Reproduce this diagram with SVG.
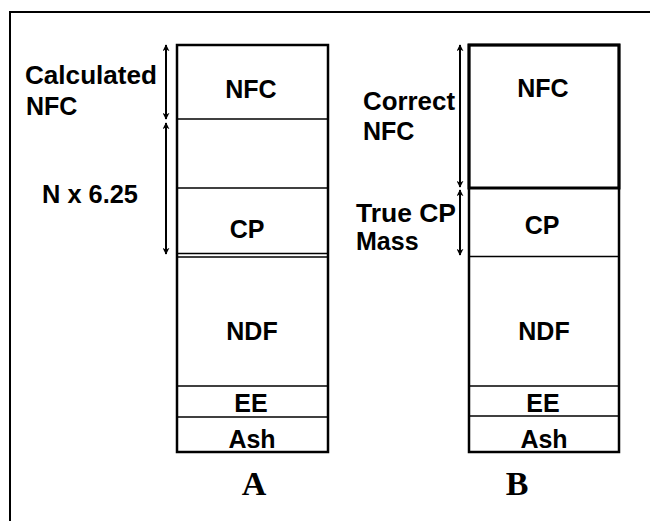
<svg xmlns="http://www.w3.org/2000/svg" width="650" height="521" viewBox="0 0 650 521">
<style>
.t{font-family:"Liberation Sans",Arial,sans-serif;font-weight:bold;font-size:25px;fill:#000}
.c{text-anchor:middle}
.L{font-family:"Liberation Serif","Times New Roman",serif;font-weight:bold;font-size:34px;fill:#000;text-anchor:middle}
.box{fill:#fff;stroke:#000;stroke-width:2.5}
.div{stroke:#000;stroke-width:1.5;fill:none}
.arr{stroke:#000;stroke-width:2;fill:none;marker-start:url(#h);marker-end:url(#h)}
</style>
<defs>
<marker id="h" viewBox="0 0 10 10" refX="9" refY="5" markerUnits="userSpaceOnUse" markerWidth="7" markerHeight="7" orient="auto-start-reverse">
<path d="M0,0 L10,5 L0,10 L3,5 z" fill="#000"/>
</marker>
</defs>
<rect width="650" height="521" fill="#fff"/>
<path d="M10,530 V12 H660" fill="none" stroke="#000" stroke-width="2"/>

<g id="barA">
<rect class="box" x="177" y="45" width="151" height="407"/>
<line class="div" x1="177" y1="119" x2="328" y2="119"/>
<line class="div" x1="177" y1="188" x2="328" y2="188"/>
<line class="div" x1="177" y1="253.5" x2="328" y2="253.5"/>
<line class="div" x1="177" y1="257" x2="328" y2="257"/>
<line class="div" x1="177" y1="386" x2="328" y2="386"/>
<line class="div" x1="177" y1="417" x2="328" y2="417"/>
</g>
<g id="A-NFC"><text class="t c" x="251" y="98">NFC</text></g>
<g id="A-CP"><text class="t c" x="247" y="238">CP</text></g>
<g id="A-NDF"><text class="t c" x="252" y="340">NDF</text></g>
<g id="A-EE"><text class="t c" x="251" y="412">EE</text></g>
<g id="A-Ash"><text class="t c" x="252" y="448">Ash</text></g>
<g id="labelA"><text class="L" x="254" y="495">A</text></g>

<g id="barB">
<rect class="box" x="469" y="45" width="150" height="407" stroke-width="2"/>
<rect x="469" y="45" width="150" height="143" fill="none" stroke="#000" stroke-width="3"/>
<line class="div" x1="469" y1="256.5" x2="619" y2="256.5"/>
<line class="div" x1="469" y1="386" x2="619" y2="386"/>
<line class="div" x1="469" y1="416" x2="619" y2="416"/>
</g>
<g id="B-NFC"><text class="t c" x="543" y="97">NFC</text></g>
<g id="B-CP"><text class="t c" x="542" y="234">CP</text></g>
<g id="B-NDF"><text class="t c" x="544" y="340">NDF</text></g>
<g id="B-EE"><text class="t c" x="543" y="412">EE</text></g>
<g id="B-Ash"><text class="t c" x="544" y="448">Ash</text></g>
<g id="labelB"><text class="L" x="517" y="495">B</text></g>

<g id="calc-label"><text class="t" x="25" y="84" textLength="132" lengthAdjust="spacingAndGlyphs">Calculated</text><text class="t" x="26" y="115">NFC</text></g>
<g id="n-label"><text class="t" x="42" y="203" textLength="96" lengthAdjust="spacingAndGlyphs">N x 6.25</text></g>
<g id="correct-label"><text class="t" x="363" y="110" textLength="92" lengthAdjust="spacingAndGlyphs">Correct</text><text class="t" x="363" y="140">NFC</text></g>
<g id="truecp-label"><text class="t" x="356" y="222" textLength="100" lengthAdjust="spacingAndGlyphs">True CP</text><text class="t" x="356" y="250">Mass</text></g>

<g id="connectors">
<line class="arr" x1="166" y1="45" x2="166" y2="119"/>
<line class="arr" x1="166" y1="123" x2="166" y2="254"/>
<line class="arr" x1="460" y1="45" x2="460" y2="187"/>
<line class="arr" x1="460" y1="190" x2="460" y2="255"/>
</g>
</svg>
